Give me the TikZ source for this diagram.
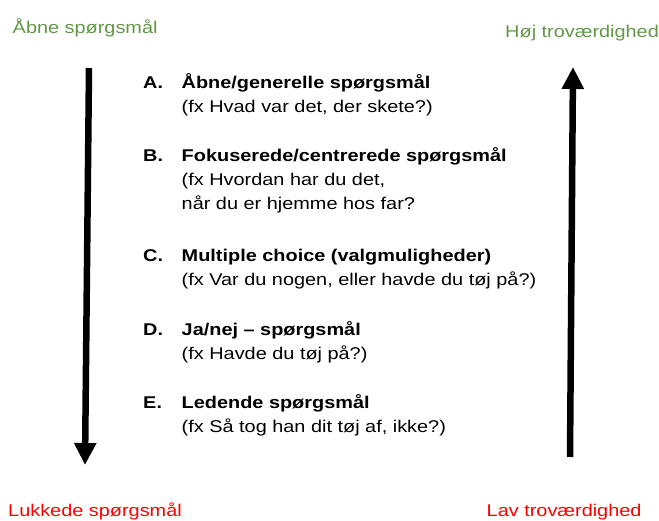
\documentclass[tikz,border=0pt]{standalone}
\usepackage{fontspec}
\setmainfont{Liberation Sans}
\usetikzlibrary{arrows.meta}
\definecolor{opengreen}{RGB}{98,152,70}
\definecolor{closedred}{RGB}{255,0,0}

\begin{document}
\begin{tikzpicture}[x=1pt,y=-1pt,
  txt/.style={anchor=base west, inner sep=0pt, xscale=1.17, align=left,
    font=\fontsize{17}{24}\selectfont},
  bigarrow/.style={line width=6.5pt, -{Triangle[width=21pt,length=22pt]}}]
 \useasboundingbox (0,0) rectangle (659,521);
 \begin{scope}
  % Ends of the two scales
  \node[txt, text=opengreen] (open) at (12.5,33.5) {Åbne spørgsmål};
  \node[txt, text=opengreen] (high) at (505,37.5) {Høj troværdighed};
  \node[txt, text=closedred] (closed) at (8,516) {Lukkede spørgsmål};
  \node[txt, text=closedred] (low) at (486.5,516) {Lav troværdighed};
  % Draw the arrows
  \coordinate (ltop) at (89,68);
  \coordinate (lbot) at (85,465);
  \coordinate (rbot) at (570,457);
  \coordinate (rtop) at (573,67);
  \draw[bigarrow] (ltop) -- (lbot);
  \draw[bigarrow] (rbot) -- (rtop);
 \end{scope}
 \begin{scope}
  % The question types
  \node[txt, font=\fontsize{17}{24}\selectfont\bfseries] (la) at (143,89) {A.};
  \node[txt, font=\fontsize{17}{24}\selectfont\bfseries] (ta) at (181.5,89) {Åbne/generelle spørgsmål};
  \node[txt] (sa) at (181.5,113) {(fx Hvad var det, der skete?)};
  \node[txt, font=\fontsize{17}{24}\selectfont\bfseries] (lb) at (143,162) {B.};
  \node[txt, font=\fontsize{17}{24}\selectfont\bfseries] (tb) at (181.5,162) {Fokuserede/centrerede spørgsmål};
  \node[txt] (sb) at (181.5,210) {(fx Hvordan har du det,\\når du er hjemme hos far?};
  \node[txt, font=\fontsize{17}{24}\selectfont\bfseries] (lc) at (143,262) {C.};
  \node[txt, font=\fontsize{17}{24}\selectfont\bfseries] (tc) at (181.5,262) {Multiple choice (valgmuligheder)};
  \node[txt] (sc) at (181.5,286) {(fx Var du nogen, eller havde du tøj på?)};
  \node[txt, font=\fontsize{17}{24}\selectfont\bfseries] (ld) at (143,336) {D.};
  \node[txt, font=\fontsize{17}{24}\selectfont\bfseries] (td) at (181.5,336) {Ja/nej – spørgsmål};
  \node[txt] (sd) at (181.5,360) {(fx Havde du tøj på?)};
  \node[txt, font=\fontsize{17}{24}\selectfont\bfseries] (le) at (143,408.5) {E.};
  \node[txt, font=\fontsize{17}{24}\selectfont\bfseries] (te) at (181.5,408.5) {Ledende spørgsmål};
  \node[txt] (se) at (181.5,432.5) {(fx Så tog han dit tøj af, ikke?)};
 \end{scope}
\end{tikzpicture}
\end{document}
